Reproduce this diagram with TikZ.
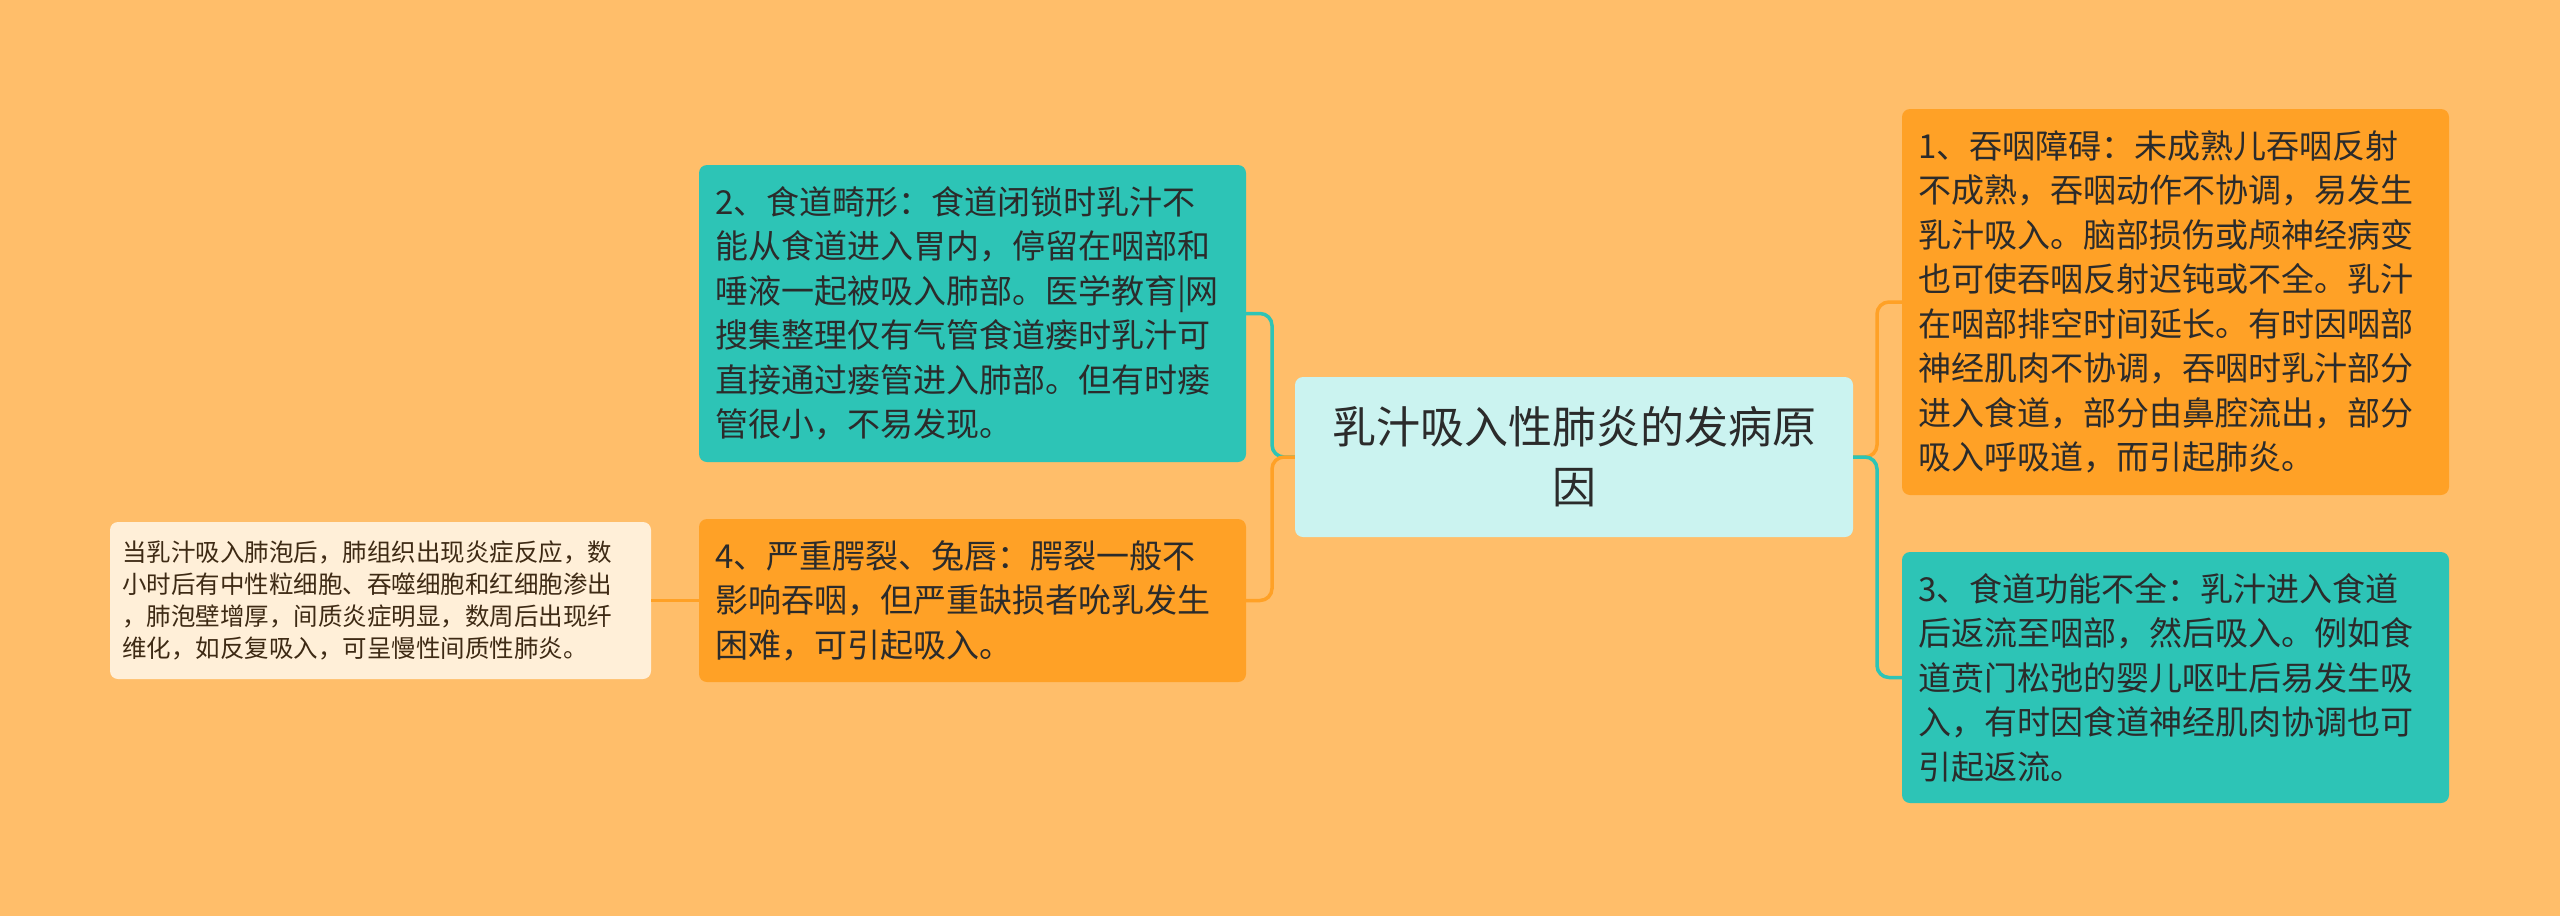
\documentclass[tikz,border=0pt]{standalone}
\usepackage{fontspec}
\setmainfont{Noto Sans CJK SC}
\definecolor{bgc}{HTML}{FFBE6A}
\definecolor{orangec}{HTML}{FFA126}
\definecolor{tealc}{HTML}{2DC4B6}
\definecolor{centerc}{HTML}{CBF3F0}
\definecolor{creamc}{HTML}{FFEFD8}
\definecolor{textc}{HTML}{2B2B2B}
\definecolor{browntext}{HTML}{3E2A14}
\tikzset{
  box/.style={rounded corners=8pt, inner xsep=16pt, inner ysep=0pt, align=left, text=textc,
    font=\fontsize{33}{44.5}\selectfont},
  mainbox/.style={box, text width=515pt, minimum width=547pt},
  link/.style={line width=3.5pt, rounded corners=12pt},
}
\begin{document}
\begin{tikzpicture}[x=1pt,y=-1pt]
\useasboundingbox (0,0) rectangle (2560,916);
\fill[bgc] (0,0) rectangle (2560,916);

\node[box, fill=centerc, align=center, text width=520pt, minimum width=558pt, minimum height=160pt,
  font=\fontsize{44}{60}\selectfont] (c) at (1574,457) {乳汁吸入性肺炎的发病原\\因};

\node[mainbox, fill=tealc, minimum height=297pt] (n2) at (972.5,313.5) {2、食道畸形：食道闭锁时乳汁不\\能从食道进入胃内，停留在咽部和\\唾液一起被吸入肺部。医学教育|网\\搜集整理仅有气管食道瘘时乳汁可\\直接通过瘘管进入肺部。但有时瘘\\管很小，不易发现。};

\node[mainbox, fill=orangec, minimum height=163pt] (n4) at (972.5,600.5) {4、严重腭裂、兔唇：腭裂一般不\\影响吞咽，但严重缺损者吮乳发生\\困难，可引起吸入。};

\node[box, fill=creamc, text=browntext, inner xsep=12pt, text width=517pt, minimum width=541pt, minimum height=157pt,
  font=\fontsize{24.5}{32}\selectfont] (fl) at (380.5,600.5) {当乳汁吸入肺泡后，肺组织出现炎症反应，数\\小时后有中性粒细胞、吞噬细胞和红细胞渗出\\，肺泡壁增厚，间质炎症明显，数周后出现纤\\维化，如反复吸入，可呈慢性间质性肺炎。};

\node[mainbox, fill=orangec, minimum height=386pt] (n1) at (2175.5,302) {1、吞咽障碍：未成熟儿吞咽反射\\不成熟，吞咽动作不协调，易发生\\乳汁吸入。脑部损伤或颅神经病变\\也可使吞咽反射迟钝或不全。乳汁\\在咽部排空时间延长。有时因咽部\\神经肌肉不协调，吞咽时乳汁部分\\进入食道，部分由鼻腔流出，部分\\吸入呼吸道，而引起肺炎。};

\node[mainbox, fill=tealc, minimum height=251pt] (n3) at (2175.5,677.5) {3、食道功能不全：乳汁进入食道\\后返流至咽部，然后吸入。例如食\\道贲门松弛的婴儿呕吐后易发生吸\\入，有时因食道神经肌肉协调也可\\引起返流。};

\coordinate (jl) at (1272,457);
\coordinate (jr) at (1877,457);

\draw[link, tealc] (c.west) -- (jl) |- (n2.east);
\draw[link, orangec] (c.west) -- (jl) |- (n4.east);
\draw[link, orangec] (c.east) -- (jr) |- (n1.west);
\draw[link, tealc] (c.east) -- (jr) |- (n3.west);
\draw[line width=3.5pt, orangec] (n4.west) -- (fl.east);
\end{tikzpicture}
\end{document}
